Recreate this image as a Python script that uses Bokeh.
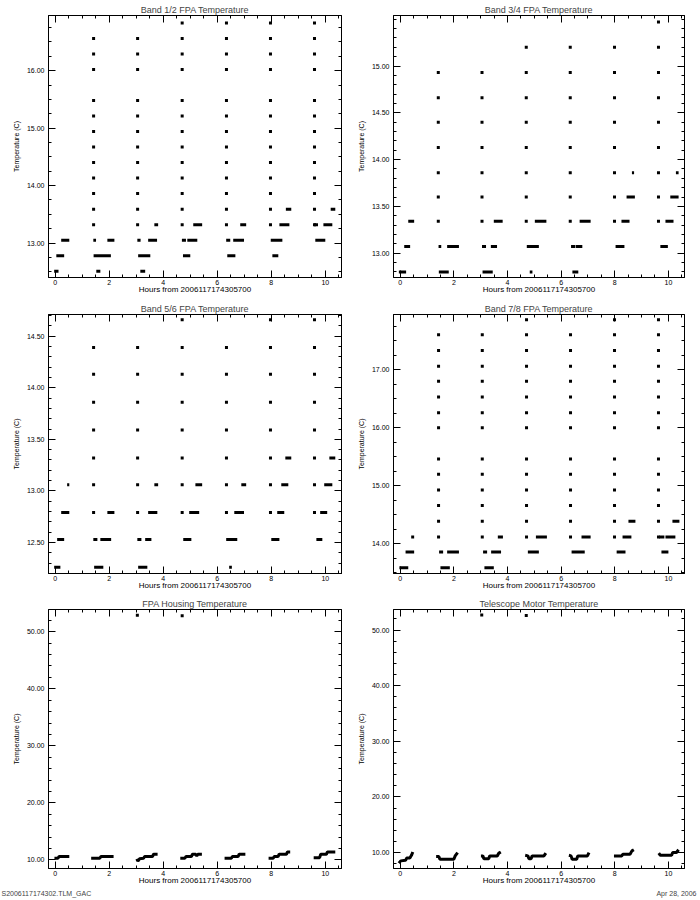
import numpy as np
from bokeh.plotting import figure
from bokeh.layouts import column, row
from bokeh.models import Range1d, FixedTicker, LinearAxis, PrintfTickFormatter, Title
from bokeh.embed import file_html
from bokeh.resources import INLINE

FONT = "Liberation Sans"
x_label = "Hours from 2006117174305700"
y_label = "Temperature (C)"
hour_ticks = [0, 2, 4, 6, 8, 10]
x_range = (-0.25, 10.6)

# ---------------- Band 1/2 ----------------
b12_run_x0 = [-0.04, 1.52, 3.15,
              0.04, 1.42, 3.07, 4.73, 6.37, 8.04,
              0.22, 1.41, 1.93, 3.04, 3.44, 4.69, 4.89, 6.33, 6.59, 7.98, 9.63,
              3.67, 5.11, 6.85, 8.30, 9.58, 9.93,
              8.54, 10.20]
b12_run_x1 = [0.12, 1.67, 3.33,
              0.33, 2.06, 3.52, 5.00, 6.67, 8.26,
              0.52, 1.51, 2.19, 3.16, 3.77, 4.84, 5.26, 6.48, 6.99, 8.41, 10.00,
              3.81, 5.44, 7.07, 8.67, 9.73, 10.26,
              8.74, 10.37]
b12_run_y = [12.51] * 3 + [12.78] * 6 + [13.05] * 11 + [13.32] * 6 + [13.59] * 2
b12_spike_x = [1.42, 3.05, 4.70, 6.34, 7.97, 9.60]
b12_levels = [13.32, 13.59, 13.86, 14.13, 14.40, 14.67, 14.94, 15.21, 15.48,
              16.02, 16.29, 16.56, 16.83]
b12_spike_top = [16.56, 16.56, 16.83, 16.83, 16.83, 16.83]

# ---------------- Band 3/4 ----------------
b34_run_x0 = [-0.05, 1.44, 3.07, 4.83, 6.42,
              0.15, 1.43, 1.75, 3.05, 3.38, 4.72, 6.37, 6.54, 8.03, 9.70,
              0.30, 3.49, 5.02, 6.69, 8.25, 9.89,
              8.44, 10.07,
              8.64, 10.28]
b34_run_x1 = [0.22, 1.81, 3.45, 4.93, 6.64,
              0.37, 1.53, 2.19, 3.20, 3.61, 5.17, 6.52, 6.79, 8.36, 9.98,
              0.52, 3.82, 5.45, 7.10, 8.55, 10.19,
              8.75, 10.38,
              8.72, 10.38]
b34_run_y = [12.80] * 5 + [13.07] * 10 + [13.34] * 6 + [13.60] * 2 + [13.86] * 2
b34_spike_x = [1.42, 3.05, 4.70, 6.34, 7.99, 9.63]
b34_levels = [13.34, 13.60, 13.86, 14.13, 14.40, 14.66, 14.93, 15.20, 15.47]
b34_spike_top = [14.93, 14.93, 15.20, 15.20, 15.20, 15.47]

# ---------------- Band 5/6 ----------------
b56_run_x0 = [-0.04, 1.44, 3.07, 6.44,
              0.07, 1.41, 1.67, 3.04, 3.33, 4.74, 6.33, 8.00, 9.67,
              0.22, 1.93, 3.44, 4.96, 6.63, 8.22, 9.81,
              0.44, 3.67, 5.19, 6.89, 8.37, 9.96,
              8.52, 10.15]
b56_run_x1 = [0.19, 1.78, 3.41, 6.54,
              0.33, 1.56, 2.07, 3.19, 3.56, 5.04, 6.74, 8.30, 9.89,
              0.52, 2.19, 3.78, 5.33, 6.99, 8.48, 10.07,
              0.52, 3.81, 5.44, 7.07, 8.63, 10.26,
              8.74, 10.37]
b56_run_y = [12.26] * 4 + [12.53] * 9 + [12.79] * 7 + [13.06] * 6 + [13.32] * 2
b56_spike_x = [1.42, 3.05, 4.70, 6.34, 7.97, 9.60]
b56_levels = [12.79, 13.06, 13.32, 13.59, 13.86, 14.13, 14.39, 14.66]
b56_spike_top = [14.39, 14.39, 14.66, 14.39, 14.66, 14.66]

# ---------------- Band 7/8 ----------------
b78_run_x0 = [-0.03, 1.50, 3.14,
              0.20, 1.45, 1.75, 3.09, 3.39, 4.76, 6.39, 8.07, 9.74,
              0.41, 3.64, 5.06, 6.76, 8.29, 9.66, 9.89,
              8.51, 10.15]
b78_run_x1 = [0.30, 1.85, 3.49,
              0.52, 1.60, 2.19, 3.24, 3.76, 5.17, 6.88, 8.40, 10.00,
              0.52, 3.83, 5.47, 7.10, 8.62, 9.85, 10.26,
              8.77, 10.41]
b78_run_y = [13.59] * 3 + [13.86] * 9 + [14.12] * 7 + [14.39] * 2
b78_spike_x = [1.43, 3.06, 4.71, 6.35, 7.99, 9.63]
b78_levels = [14.12, 14.39, 14.66, 14.93, 15.20, 15.46, 16.00, 16.26, 16.53,
              16.80, 17.06, 17.33, 17.60, 17.86]
b78_spike_top = [17.60, 17.60, 17.86, 17.60, 17.86, 17.86]

# ---------------- FPA housing ----------------
hous_x = [[-0.03, 0.10, 0.14, 0.52],
          [1.33, 1.65, 1.69, 2.16],
          [3.02, 3.06, 3.12, 3.27, 3.31, 3.60, 3.64, 3.79],
          [4.63, 4.80, 4.84, 5.04, 5.08, 5.20, 5.24, 5.28, 5.43],
          [6.27, 6.52, 6.56, 6.77, 6.81, 7.04],
          [7.90, 8.07, 8.11, 8.25, 8.29, 8.56, 8.60, 8.70],
          [9.57, 9.79, 9.83, 10.04, 10.08, 10.37]]
hous_y = [[10.3, 10.3, 10.6, 10.6],
          [10.3, 10.3, 10.6, 10.6],
          [10.2, 9.8, 10.2, 10.3, 10.6, 10.6, 11.0, 11.0],
          [10.3, 10.3, 10.6, 10.6, 11.0, 11.0, 10.7, 11.0, 11.0],
          [10.3, 10.3, 10.6, 10.6, 11.0, 11.0],
          [10.3, 10.3, 10.6, 10.6, 11.0, 11.0, 11.4, 11.4],
          [10.4, 10.4, 11.0, 11.0, 11.4, 11.4]]
hous_dot_x = [3.04, 4.70]
hous_dot_y = [52.9, 52.8]

# ---------------- Telescope motor ----------------
motor_x = [[-0.05, 0.02, 0.20, 0.24, 0.36, 0.42, 0.47],
           [1.34, 1.44, 1.48, 2.00, 2.05, 2.14],
           [3.01, 3.08, 3.12, 3.30, 3.34, 3.62, 3.68, 3.75],
           [4.66, 4.76, 4.80, 4.88, 4.92, 5.36, 5.43],
           [6.29, 6.37, 6.41, 6.58, 6.62, 6.98, 7.04],
           [7.97, 8.26, 8.30, 8.57, 8.64, 8.71],
           [9.64, 9.70, 10.12, 10.16, 10.30, 10.38]]
motor_y = [[8.1, 8.5, 8.6, 9.0, 9.0, 9.5, 10.1],
           [9.3, 9.3, 8.8, 8.8, 9.4, 10.0],
           [9.4, 9.4, 8.9, 8.9, 9.4, 9.4, 9.9, 10.1],
           [9.5, 9.4, 8.9, 8.9, 9.4, 9.4, 9.9],
           [9.5, 9.4, 8.8, 8.8, 9.4, 9.4, 10.0],
           [9.4, 9.4, 9.7, 9.7, 10.3, 10.5],
           [9.9, 9.5, 9.5, 10.0, 10.0, 10.5]]
motor_dot_x = [3.04, 4.70]
motor_dot_y = [52.7, 52.6]


def spike_points(sx, levels, tops):
    xs, ys = [], []
    for x, top in zip(sx, tops):
        for lv in levels:
            if lv <= top + 1e-9:
                xs.append(x)
                ys.append(lv)
    return xs, ys


def make_panel(title, yr, ymajor, yminor, col, top, h, bottom):
    if col == 0:
        bl, br, w = 48, 8, 349
    else:
        bl, br, w = 44, 14, 349
    p = figure(width=w, height=h,
               x_range=Range1d(*x_range), y_range=Range1d(*yr),
               output_backend="svg", toolbar_location=None,
               min_border_left=bl, min_border_right=br,
               min_border_top=top, min_border_bottom=bottom,
               background_fill_color="white", border_fill_color="white")
    p.grid.visible = False
    p.outline_line_color = "black"
    p.title.text = title
    p.title.text_font = FONT
    p.title.text_font_size = "9px"
    p.title.text_font_style = "normal"
    p.title.align = "center"
    p.title.standoff = 1

    xb = p.below[0]
    yl = p.left[0]
    xminor = list(np.arange(-0.5, 11.01, 0.5))
    xb.ticker = FixedTicker(ticks=hour_ticks, minor_ticks=xminor)
    xb.axis_label = x_label
    yl.ticker = FixedTicker(ticks=ymajor, minor_ticks=yminor)
    yl.formatter = PrintfTickFormatter(format="%.2f")
    yl.axis_label = y_label

    xt = LinearAxis(ticker=FixedTicker(ticks=hour_ticks, minor_ticks=xminor))
    yt = LinearAxis(ticker=FixedTicker(ticks=ymajor, minor_ticks=yminor))
    p.add_layout(xt, "above")
    p.add_layout(yt, "right")
    for ax in [xb, yl, xt, yt]:
        ax.axis_line_color = "black"
        ax.major_tick_line_color = "black"
        ax.minor_tick_line_color = "black"
        ax.major_tick_in = 7
        ax.major_tick_out = 0
        ax.minor_tick_in = 3
        ax.minor_tick_out = 0
        ax.major_label_text_font = FONT
        ax.axis_label_text_font = FONT
        ax.axis_label_text_font_style = "normal"
        ax.major_label_text_color = "black"
        ax.axis_label_text_color = "black"
    for ax in [xt, yt]:
        ax.major_label_text_font_size = "0px"
        ax.major_label_text_color = None
        ax.major_label_standoff = 0
    xb.major_label_text_font_size = "7px"
    xb.major_label_standoff = 2
    xb.axis_label_text_font_size = "8px"
    xb.axis_label_standoff = -3
    yl.major_label_text_font_size = "7px"
    yl.major_label_standoff = 4
    yl.axis_label_text_font_size = "7px"
    yl.axis_label_standoff = 4
    return p


def add_band(p, x0, x1, y, sx, levels, tops):
    p.segment(x0=x0, y0=y, x1=x1, y1=y, line_width=3, line_color="black", line_cap="butt")
    xs, ys = spike_points(sx, levels, tops)
    p.scatter(xs, ys, marker="square", size=3, fill_color="black", line_color=None)


rows = [(15, 297, 20), (17, 297, 21), (15, 305, 31)]

p1 = make_panel("Band 1/2 FPA Temperature", (12.40, 16.96), [13, 14, 15, 16],
                list(np.arange(12.25, 17.01, 0.25)), 0, *rows[0])
add_band(p1, b12_run_x0, b12_run_x1, b12_run_y, b12_spike_x, b12_levels, b12_spike_top)

p2 = make_panel("Band 3/4 FPA Temperature", (12.74, 15.54), [13.0, 13.5, 14.0, 14.5, 15.0],
                list(np.arange(12.7, 15.61, 0.1)), 1, *rows[0])
add_band(p2, b34_run_x0, b34_run_x1, b34_run_y, b34_spike_x, b34_levels, b34_spike_top)

p3 = make_panel("Band 5/6 FPA Temperature", (12.20, 14.71), [12.5, 13.0, 13.5, 14.0, 14.5],
                list(np.arange(12.2, 14.81, 0.1)), 0, *rows[1])
add_band(p3, b56_run_x0, b56_run_x1, b56_run_y, b56_spike_x, b56_levels, b56_spike_top)

p4 = make_panel("Band 7/8 FPA Temperature", (13.49, 17.95), [14, 15, 16, 17],
                list(np.arange(13.5, 18.01, 0.25)), 1, *rows[1])
add_band(p4, b78_run_x0, b78_run_x1, b78_run_y, b78_spike_x, b78_levels, b78_spike_top)

p5 = make_panel("FPA Housing Temperature", (8.5, 53.9), [10, 20, 30, 40, 50],
                list(np.arange(8, 54.1, 2)), 0, *rows[2])
p5.multi_line(hous_x, hous_y, line_width=3, line_color="black")
p5.scatter(hous_dot_x, hous_dot_y, marker="square", size=3, fill_color="black", line_color=None)

p6 = make_panel("Telescope Motor Temperature", (7.13, 53.7), [10, 20, 30, 40, 50],
                list(np.arange(8, 54.1, 2)), 1, *rows[2])
p6.multi_line(motor_x, motor_y, line_width=3, line_color="black")
p6.scatter(motor_dot_x, motor_dot_y, marker="square", size=3, fill_color="black", line_color=None)

p5.add_layout(Title(text="S2006117174302.TLM_GAC", align="left", offset=-47,
                    text_font=FONT, text_font_size="7px", text_font_style="normal",
                    standoff=1), "below")
p6.add_layout(Title(text="Apr 28, 2006", align="right", offset=-12,
                    text_font=FONT, text_font_size="7px", text_font_style="normal",
                    standoff=1), "below")

layout = column(row(p1, p2), row(p3, p4), row(p5, p6))
open("out.html", "w").write(file_html(layout, INLINE))
